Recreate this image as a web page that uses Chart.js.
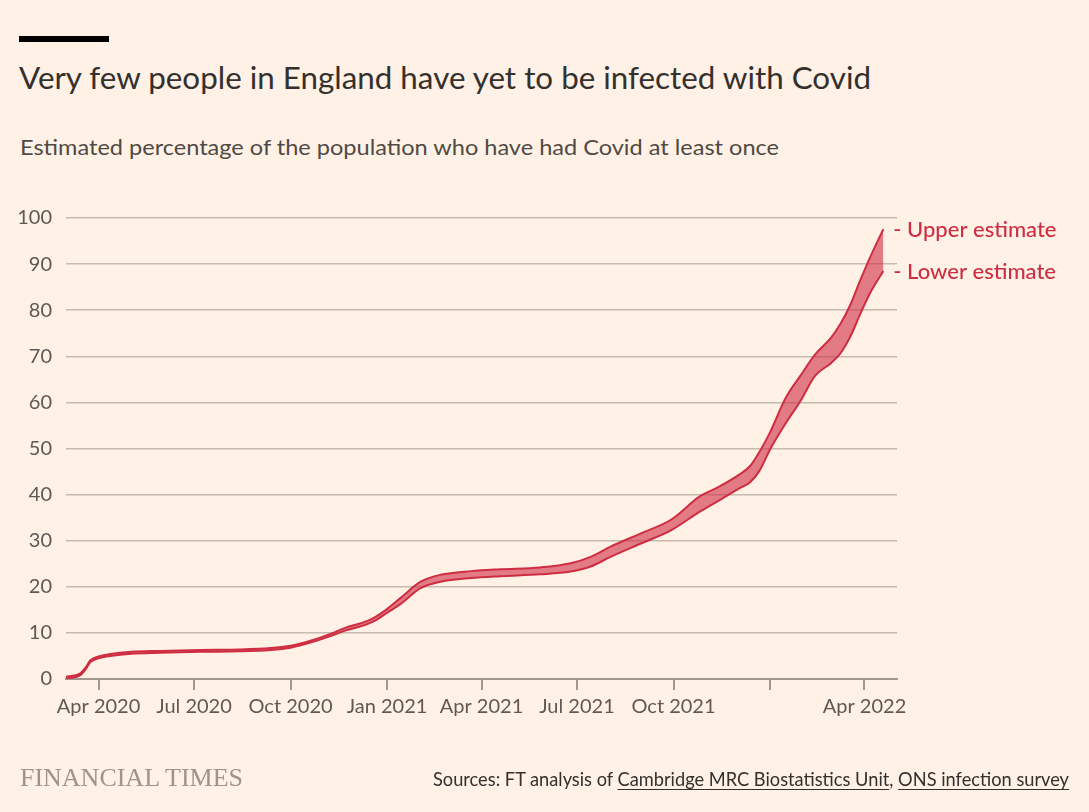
<!DOCTYPE html>
<html><head><meta charset="utf-8">
<script src="https://cdn.jsdelivr.net/npm/chart.js@4.4.0/dist/chart.umd.min.js"></script>
<style>
html,body{margin:0;padding:0;background:#fff1e5;}
body{width:1089px;height:812px;position:relative;overflow:hidden;font-family:Lato,sans-serif;}
#c{position:absolute;left:0;top:0;}
.t{position:absolute;white-space:nowrap;line-height:1.2;transform-origin:0 0;}
#bar{position:absolute;left:19px;top:36px;width:90px;height:6px;background:#000;}
#src u{text-decoration-thickness:1px;text-underline-offset:3px;}
</style></head><body>
<div id="bar"></div>
<div class="t" id="title">Very few people in England have yet to be infected with Covid</div>
<div class="t" id="sub">Estimated percentage of the population who have had Covid at least once</div>
<canvas id="c" width="1089" height="812"></canvas>
<div class="t" id="ft">FINANCIAL TIMES</div>
<div class="t" id="src">Sources: FT analysis of <u>Cambridge MRC Biostatistics Unit</u>, <u>ONS infection survey</u></div>
<script>
// ---- data (x = days since 1 Mar 2020) ----
const days  = [0, 9, 14, 19, 23, 31, 42, 62, 90, 128, 166, 195, 214, 233, 252, 266, 286, 295, 305, 319, 338, 357, 386, 414, 452, 481, 500, 519, 548, 577, 604, 623, 642, 652, 661, 671, 686, 700, 714, 729, 738, 748, 757, 767, 779];
const upper = [0.5, 0.8, 1.3, 2.6, 4.0, 4.9, 5.4, 5.9, 6.1, 6.3, 6.4, 6.7, 7.2, 8.3, 9.8, 11.1, 12.5, 13.5, 15.0, 17.6, 21.1, 22.6, 23.4, 23.8, 24.2, 25.1, 26.5, 28.7, 31.6, 34.6, 39.6, 41.8, 44.4, 46.2, 49.3, 53.5, 61.0, 65.8, 70.4, 74.0, 77.0, 81.4, 86.5, 91.8, 97.6];
const lower = [0.1, 0.4, 0.9, 2.2, 3.6, 4.5, 5.0, 5.5, 5.7, 5.9, 6.0, 6.3, 6.8, 7.9, 9.3, 10.5, 11.8, 12.7, 14.2, 16.3, 19.7, 21.1, 21.9, 22.3, 22.7, 23.3, 24.4, 26.5, 29.4, 32.3, 36.3, 38.8, 41.4, 42.7, 45.2, 49.8, 55.5, 60.3, 65.8, 68.5, 70.6, 74.5, 79.2, 84.0, 88.5];
const seriesNames = ['Upper estimate', 'Lower estimate'];
const tickDays   = [31, 122, 214, 306, 396, 487, 579, 671, 761];
const tickLabels = ['Apr 2020', 'Jul 2020', 'Oct 2020', 'Jan 2021', 'Apr 2021', 'Jul 2021', 'Oct 2021', '', 'Apr 2022'];
const yTicks = [0, 10, 20, 30, 40, 50, 60, 70, 80, 90, 100];

// ---- html text placement ----
function place(id, o) {
  const el = document.getElementById(id);
  el.style.fontSize = o.size + 'px';
  el.style.fontFamily = o.family;
  el.style.color = o.color;
  el.style.fontWeight = o.weight || 400;
  el.style.left = '0px'; el.style.top = '0px';
  const mk = document.createElement('span');
  mk.style.cssText = 'display:inline-block;width:0;height:0;vertical-align:baseline;';
  el.appendChild(mk);
  const r = el.getBoundingClientRect();
  const base = mk.getBoundingClientRect().top - r.top;
  const sx = o.width / r.width;
  el.style.top = (o.baseline - base) + 'px';
  const left = (o.left !== undefined) ? o.left : (o.right - o.width);
  el.style.left = left + 'px';
  el.style.transform = 'scaleX(' + sx + ')';
}
place('title', {left: 19, baseline: 89, width: 852, size: 31, family: 'Lato', color: '#33302e'});
place('sub', {left: 20, baseline: 155, width: 759, size: 21, family: 'Lato', color: '#4f4a46'});
place('ft', {left: 20, baseline: 786, width: 223, size: 26, family: '"Liberation Serif", serif', color: '#9c948d'});
place('src', {right: 1069, baseline: 786, width: 636, size: 19, family: 'Lato', color: '#33302e'});

// ---- chart ----
const red = '#ce2d42';
const fillRed = 'rgba(206,45,66,0.6)';
const axisColor = '#a0978f';
const gridColor = '#c6bab0';
const tickColor = '#5f5955';

const endLabels = {
  id: 'endLabels',
  afterDatasetsDraw(chart) {
    const ctx = chart.ctx;
    ctx.save();
    ctx.font = '500 22px Lato';
    ctx.fillStyle = red;
    ctx.textBaseline = 'alphabetic';
    seriesNames.forEach((name, i) => {
      const meta = chart.getDatasetMeta(i);
      const pt = meta.data[meta.data.length - 1];
      ctx.fillText('- ' + name, pt.x + 10, pt.y + 8);
    });
    ctx.restore();
  }
};

Chart.defaults.font.family = 'Lato';
new Chart(document.getElementById('c'), {
  type: 'line',
  data: {
    datasets: [
      {label: seriesNames[0], data: days.map((d, i) => ({x: d, y: upper[i]})), borderColor: red, borderWidth: 2, backgroundColor: fillRed, fill: '+1', pointRadius: 0, cubicInterpolationMode: 'monotone'},
      {label: seriesNames[1], data: days.map((d, i) => ({x: d, y: lower[i]})), borderColor: red, borderWidth: 2, fill: false, pointRadius: 0, cubicInterpolationMode: 'monotone'}
    ]
  },
  options: {
    responsive: false,
    animation: false,
    events: [],
    layout: {padding: {left: 0, top: 218, right: 192, bottom: 93}},
    plugins: {legend: {display: false}, tooltip: {enabled: false}},
    scales: {
      x: {
        type: 'linear', min: 0, max: 792,
        afterBuildTicks: s => { s.ticks = tickDays.map(v => ({value: v})); },
        afterFit: s => { s.height = 40; },
        ticks: {
          autoSkip: false, maxRotation: 0, padding: 5, color: tickColor,
          font: {size: 20},
          callback: v => tickLabels[tickDays.indexOf(v)]
        },
        grid: {drawOnChartArea: false, drawTicks: true, tickLength: 11, color: axisColor, lineWidth: 2},
        border: {display: true, color: axisColor, width: 2}
      },
      y: {
        min: 0, max: 100,
        afterBuildTicks: s => { s.ticks = yTicks.map(v => ({value: v})); },
        afterFit: s => { s.width = 66; },
        ticks: {padding: 14, color: tickColor, font: {size: 20}},
        grid: {drawTicks: false, lineWidth: 1.5, color: c => (c.tick && c.tick.value === 0) ? 'rgba(0,0,0,0)' : gridColor},
        border: {display: false}
      }
    }
  },
  plugins: [endLabels]
});
</script>
</body></html>
